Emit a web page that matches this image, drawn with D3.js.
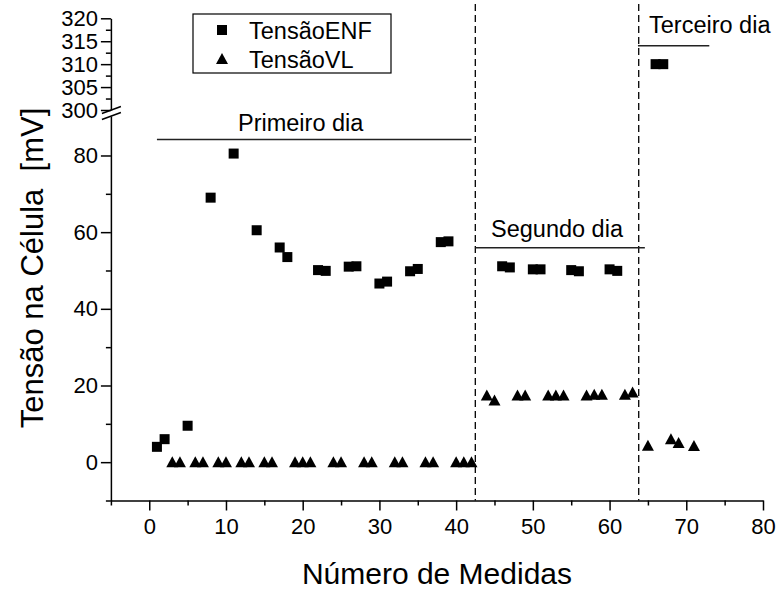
<!DOCTYPE html>
<html>
<head>
<meta charset="utf-8">
<script src="https://cdn.jsdelivr.net/npm/d3@7"></script>
<style>
  html, body { margin: 0; padding: 0; background: #fff; }
  svg { display: block; font-family: "Liberation Sans", Arial, sans-serif; }
</style>
</head>
<body>
<svg id="chart" width="777" height="589"></svg>
<script>
// ---- Data ----
const enfX = [1, 2, 5, 8, 11, 14, 17, 18, 22, 23, 26, 27, 30, 31, 34, 35, 38, 39,
              46, 47, 50, 51, 55, 56, 60, 61, 66, 67];
const enfY = [4, 6, 9.5, 69, 80.5, 60.5, 56, 53.5, 50.1, 49.9, 51, 51.1, 46.6, 47.1, 49.8, 50.4, 57.4, 57.6,
              51.1, 50.8, 50.3, 50.3, 50.1, 49.8, 50.3, 49.9, 310, 310];
const vlX = [3, 4, 6, 7, 9, 10, 12, 13, 15, 16, 19, 20, 21, 24, 25, 28, 29, 32, 33, 36, 37, 40, 41, 42,
             44, 45, 48, 49, 52, 53, 54, 57, 58, 59, 62, 63,
             65, 68, 69, 71];
const vlY = [0, 0, 0, 0, 0, 0, 0, 0, 0, 0, 0, 0, 0, 0, 0, 0, 0, 0, 0, 0, 0, 0, 0, 0,
             17.4, 16.1, 17.4, 17.4, 17.4, 17.4, 17.4, 17.4, 17.6, 17.6, 17.6, 18.2,
             4.3, 6, 5, 4.2];
const xTicks = [0, 10, 20, 30, 40, 50, 60, 70, 80];
const xMinor = [-5, 5, 15, 25, 35, 45, 55, 65, 75];
const yLowTicks = [0, 20, 40, 60, 80];
const yLowMinor = [-10, 10, 30, 50, 70];
const yHighTicks = [300, 305, 310, 315, 320];
const yHighMinor = [302.5, 307.5, 312.5, 317.5];
const dayBoundaries = [42.5, 63.8];
const dayLabels = ["Primeiro dia", "Segundo dia", "Terceiro dia"];
const dayRanges = [[1, 42], [42.5, 64.6], [63.7, 73]];
const dayLevels = [84.2, 55.9, 314];
const seriesNames = ["TensãoENF", "TensãoVL"];
const xTitle = "Número de Medidas";
const yTitle = "Tensão na Célula  [mV]";

// ---- Layout ----
const svg = d3.select("#chart");
const x = d3.scaleLinear().domain([-5, 80]).range([110.9, 763]);
const yLow = d3.scaleLinear().domain([-10, 90.3]).range([500.5, 116]);
const yHigh = d3.scaleLinear().domain([300, 320]).range([110, 18.3]);
const yAny = v => (v >= 200 ? yHigh(v) : yLow(v));
const axisX0 = x(-5);
const tickFont = "22px";
const noteFont = "23.5px";

function styleAxis(g) {
  g.selectAll("path.domain").attr("stroke", "#000").attr("stroke-width", 1.5);
  g.selectAll(".tick line").attr("stroke", "#000").attr("stroke-width", 1.5);
  g.selectAll(".tick text").attr("fill", "#000").style("font-size", tickFont)
    .style("font-family", '"Liberation Sans", Arial, sans-serif');
}

// X axis
const gx = svg.append("g").attr("transform", `translate(0,${yLow(-10)})`);
gx.call(d3.axisBottom(x).tickValues(xTicks).tickSize(10).tickPadding(8).tickSizeOuter(0).tickFormat(d3.format("d")));
styleAxis(gx);
const gxm = svg.append("g").attr("transform", `translate(0,${yLow(-10)})`);
gxm.call(d3.axisBottom(x).tickValues(xMinor).tickSize(5).tickSizeOuter(0).tickFormat(""));
styleAxis(gxm);
gxm.select("path.domain").remove();

// Y axis lower segment
const gyl = svg.append("g").attr("transform", `translate(${axisX0},0)`);
gyl.call(d3.axisLeft(yLow).tickValues(yLowTicks).tickSize(10).tickPadding(3).tickSizeOuter(0).tickFormat(d3.format("d")));
styleAxis(gyl);
const gylm = svg.append("g").attr("transform", `translate(${axisX0},0)`);
gylm.call(d3.axisLeft(yLow).tickValues(yLowMinor).tickSize(5).tickSizeOuter(0).tickFormat(""));
styleAxis(gylm);
gylm.select("path.domain").remove();

// Y axis upper segment
const gyh = svg.append("g").attr("transform", `translate(${axisX0},0)`);
gyh.call(d3.axisLeft(yHigh).tickValues(yHighTicks).tickSize(10).tickPadding(3).tickSizeOuter(0).tickFormat(d3.format("d")));
styleAxis(gyh);
const gyhm = svg.append("g").attr("transform", `translate(${axisX0},0)`);
gyhm.call(d3.axisLeft(yHigh).tickValues(yHighMinor).tickSize(5).tickSizeOuter(0).tickFormat(""));
styleAxis(gyhm);
gyhm.select("path.domain").remove();

// Break marks
[yHigh(300), yLow(90.3)].forEach(yy => {
  svg.append("line")
    .attr("x1", axisX0 - 9).attr("y1", yy + 3.5)
    .attr("x2", axisX0 + 10).attr("y2", yy - 3.5)
    .attr("stroke", "#000").attr("stroke-width", 1.5);
});

// Day boundaries (dashed)
svg.selectAll("line.bound").data(dayBoundaries).enter().append("line")
  .attr("class", "bound")
  .attr("x1", d => x(d)).attr("x2", d => x(d))
  .attr("y1", 4).attr("y2", yLow(-10))
  .attr("stroke", "#000").attr("stroke-width", 1.3)
  .attr("stroke-dasharray", "7,4");

// Day lines and labels
dayLabels.forEach((lab, i) => {
  const yy = yAny(dayLevels[i]);
  svg.append("line")
    .attr("x1", x(dayRanges[i][0])).attr("x2", x(dayRanges[i][1]))
    .attr("y1", yy).attr("y2", yy)
    .attr("stroke", "#222").attr("stroke-width", 1.5);
});
svg.append("text").attr("x", 238).attr("y", 131).text(dayLabels[0])
  .style("font-size", noteFont).attr("fill", "#000");
svg.append("text").attr("x", 491).attr("y", 237).text(dayLabels[1])
  .style("font-size", noteFont).attr("fill", "#000");
svg.append("text").attr("x", 649).attr("y", 33).text(dayLabels[2])
  .style("font-size", noteFont).attr("fill", "#000");

// Markers
const sqSize = 10;
svg.selectAll("rect.enf").data(enfX.map((d, i) => [d, enfY[i]])).enter().append("rect")
  .attr("class", "enf")
  .attr("x", d => x(d[0]) - sqSize / 2)
  .attr("y", d => yAny(d[1]) - sqSize / 2)
  .attr("width", sqSize).attr("height", sqSize)
  .attr("fill", "#000");

const triPath = "M0,-6L6,5L-6,5Z";
svg.selectAll("path.vl").data(vlX.map((d, i) => [d, vlY[i]])).enter().append("path")
  .attr("class", "vl")
  .attr("d", triPath)
  .attr("transform", d => `translate(${x(d[0])},${yAny(d[1])})`)
  .attr("fill", "#000");

// Legend
svg.append("rect").attr("x", 193).attr("y", 14).attr("width", 198).attr("height", 59)
  .attr("fill", "#fff").attr("stroke", "#000").attr("stroke-width", 1.2);
svg.append("rect").attr("x", 222 - sqSize / 2).attr("y", 30 - sqSize / 2)
  .attr("width", sqSize).attr("height", sqSize).attr("fill", "#000");
svg.append("path").attr("d", triPath).attr("transform", "translate(222,59)").attr("fill", "#000");
svg.append("text").attr("x", 249).attr("y", 39).text(seriesNames[0]).style("font-size", "23.5px");
svg.append("text").attr("x", 249).attr("y", 68).text(seriesNames[1]).style("font-size", "23.5px");

// Axis titles
svg.append("text").attr("x", x(37.5)).attr("y", 584).attr("text-anchor", "middle")
  .text(xTitle).style("font-size", "30px");
svg.append("text").attr("transform", "translate(43,268) rotate(-90)").attr("text-anchor", "middle")
  .style("white-space", "pre")
  .text(yTitle).style("font-size", "31px");
</script>
</body>
</html>
